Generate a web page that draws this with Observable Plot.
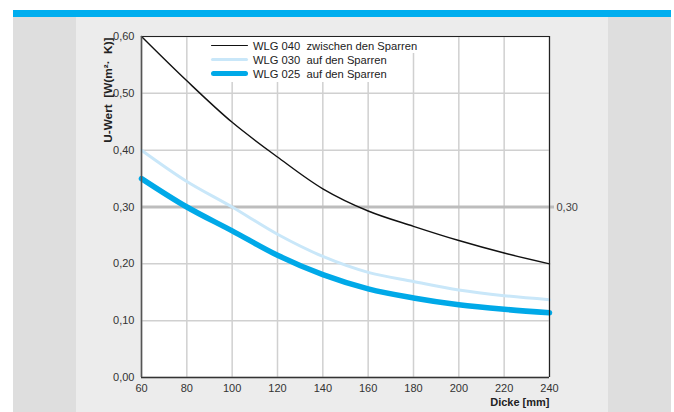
<!DOCTYPE html>
<html><head><meta charset="utf-8">
<script src="https://cdn.jsdelivr.net/npm/d3@7"></script>
<script src="https://cdn.jsdelivr.net/npm/@observablehq/plot@0.6"></script>
<style>
body{margin:0;background:#fff;}
#wrap{position:relative;width:674px;height:412px;overflow:hidden;font-family:"Liberation Sans",Arial,sans-serif;}
.bg{position:absolute;}
#chart{position:absolute;left:0;top:0;}
#chart svg [aria-label^="y-axis"] line,#chart svg [aria-label^="x-axis"] line{stroke:#999;}
#chart svg [aria-label^="y-axis"] path,#chart svg [aria-label^="x-axis"] path{display:none;}
#chart svg [aria-label^="y-axis"] text,#chart svg [aria-label^="x-axis"] text{fill:#333;}
.lbox{position:absolute;background:#fff;}
.lrow{position:absolute;left:211px;height:14px;display:flex;align-items:center;font-size:11.2px;color:#222;white-space:pre;}
.lsw{width:37px;margin-right:5px;border-radius:4px;}
</style></head><body>
<div id="wrap">
 <div class="bg" style="left:13px;top:10px;width:658px;height:7px;background:#00aeef"></div>
 <div class="bg" style="left:13px;top:17px;width:63px;height:395px;background:#dedede"></div>
 <div class="bg" style="left:76px;top:17px;width:532px;height:395px;background:#ececec"></div>
 <div class="bg" style="left:608px;top:17px;width:63px;height:395px;background:#dedede"></div>
 <div id="chart"></div>
 <div class="lbox" style="left:200px;top:37px;width:220px;height:16px"></div>
 <div class="lbox" style="left:200px;top:53px;width:205px;height:29px"></div>
 <div id="legend"></div>
</div>
<script>
const dicke = [60, 80, 100, 120, 140, 160, 180, 200, 220, 240];
const wlg040 = [0.60, 0.522, 0.449, 0.388, 0.332, 0.293, 0.266, 0.241, 0.219, 0.200];
const wlg030 = [0.40, 0.345, 0.300, 0.252, 0.213, 0.185, 0.169, 0.154, 0.144, 0.137];
const wlg025 = [0.35, 0.300, 0.258, 0.215, 0.181, 0.156, 0.140, 0.128, 0.120, 0.114];
const seriesNames = ["WLG 040  zwischen den Sparren", "WLG 030  auf den Sparren", "WLG 025  auf den Sparren"];
const xTicks = [60, 80, 100, 120, 140, 160, 180, 200, 220, 240];
const yTicks = [0, 0.1, 0.2, 0.3, 0.4, 0.5, 0.6];
const refLine = [0.30];
const yTitle = "U-Wert  [W(m²·  K)]";
const xTitle = "Dicke [mm]";

const styles = [
  {stroke: "#111", width: 1.4},
  {stroke: "#c9e7f9", width: 3},
  {stroke: "#00a9e8", width: 5.5}
];
const values = [wlg040, wlg030, wlg025];
const rows = [];
values.forEach((vals, s) => vals.forEach((v, i) => rows.push({s, x: dicke[i], y: v})));
const fmt = d => d.toFixed(2).replace(".", ",");

const lineMarks = styles.map((st, s) =>
  Plot.line(rows.filter(r => r.s === s), {x: "x", y: "y", stroke: st.stroke, strokeWidth: st.width, curve: "catmull-rom", strokeLinecap: "round", strokeLinejoin: "round"})
);

const chart = Plot.plot({
  width: 674, height: 412,
  marginLeft: 141, marginRight: 125, marginTop: 36, marginBottom: 35,
  style: {background: "transparent", fontFamily: "'Liberation Sans', Arial, sans-serif", fontSize: "11px"},
  x: {domain: [60, 240], ticks: xTicks, tickFormat: d => String(d), tickSize: 4, tickPadding: 3, label: null},
  y: {domain: [0, 0.6], ticks: yTicks, tickFormat: fmt, tickSize: 5, tickPadding: 2, label: null},
  marks: [
    Plot.frame({fill: "white", stroke: "none"}),
    Plot.ruleX(xTicks, {stroke: "#d0d0d0", strokeWidth: 1.5}),
    Plot.ruleY(yTicks, {stroke: "#d0d0d0", strokeWidth: 1.5}),
    Plot.ruleY(refLine, {stroke: "#bdbdbd", strokeWidth: 3, insetRight: -5}),
    ...lineMarks,
    Plot.ruleX([240], {stroke: "#222", strokeWidth: 1.2}),
    Plot.ruleY([0.6], {stroke: "#222", strokeWidth: 1.2}),
    Plot.ruleY([0], {stroke: "#333", strokeWidth: 1.6}),
    Plot.ruleX([60], {stroke: "#555", strokeWidth: 1.6}),
    Plot.text(refLine, {y: d => d, frameAnchor: "right", textAnchor: "start", dx: 7, text: fmt, fill: "#444"}),
    Plot.text([yTitle], {frameAnchor: "top-left", rotate: -90, textAnchor: "end", dx: -38, dy: 1, fontWeight: "bold", fontSize: 11.8, fill: "#222"}),
    Plot.text([xTitle], {frameAnchor: "bottom-right", textAnchor: "end", dy: 28, fontWeight: "bold", fontSize: 11, fill: "#222"})
  ]
});
document.getElementById("chart").appendChild(chart);

const legend = document.getElementById("legend");
const rowCenters = [45.7, 59.7, 73.7];
seriesNames.forEach((name, i) => {
  const row = document.createElement("div");
  row.className = "lrow";
  row.style.top = (rowCenters[i] - 7) + "px";
  const sw = document.createElement("div");
  sw.className = "lsw";
  sw.style.height = styles[i].width + "px";
  sw.style.background = styles[i].stroke;
  const t = document.createElement("span");
  t.textContent = name;
  row.appendChild(sw); row.appendChild(t);
  legend.appendChild(row);
});
</script>
</body></html>
